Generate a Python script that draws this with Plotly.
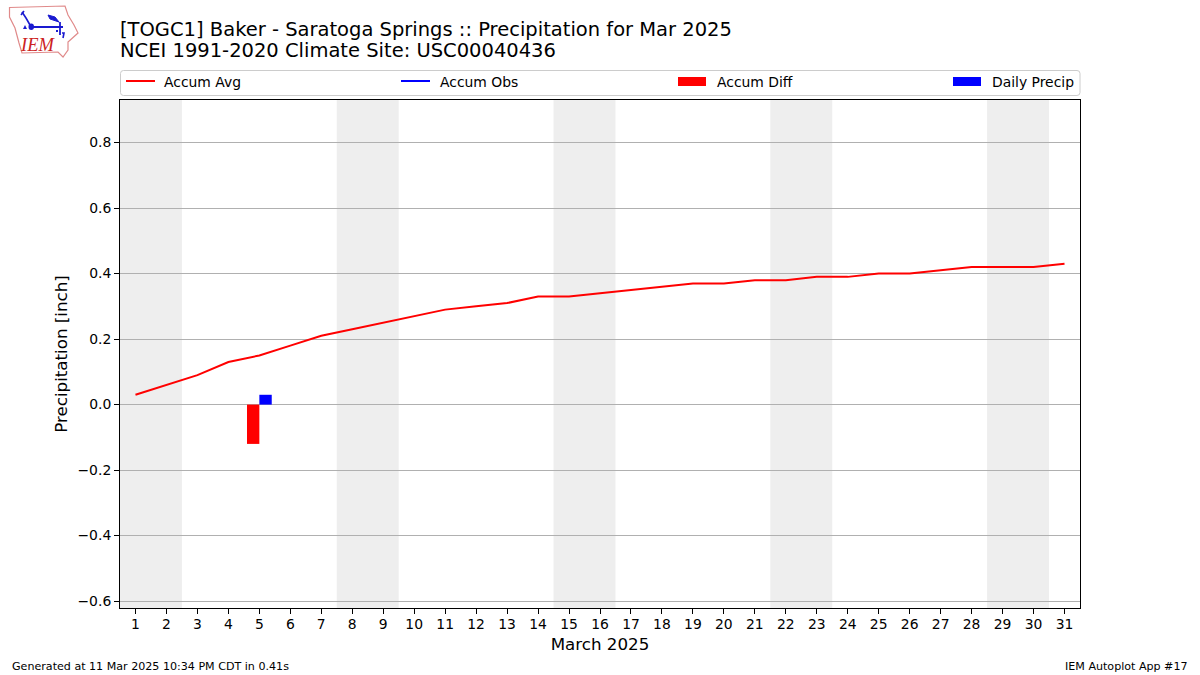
import plotly.graph_objects as go

days = list(range(1, 32))
accum_avg = [0.03, 0.06, 0.09, 0.13, 0.15, 0.18, 0.21, 0.23, 0.25, 0.27, 0.29, 0.30, 0.31, 0.33, 0.33, 0.34,
             0.35, 0.36, 0.37, 0.37, 0.38, 0.38, 0.39, 0.39, 0.40, 0.40, 0.41, 0.42, 0.42, 0.42, 0.43]
obs_days = [1, 2, 3, 4, 5]
accum_obs = [None, None, None, None, 0.03]
diff_days = [5]
accum_diff = [-0.12]
precip_days = [5]
daily_precip = [0.03]
weekends = [(0.5, 2.5), (7.5, 9.5), (14.5, 16.5), (21.5, 23.5), (28.5, 30.5)]
y_ticks = [-0.6, -0.4, -0.2, 0.0, 0.2, 0.4, 0.6, 0.8]
legend_labels = ["Accum Avg", "Accum Obs", "Accum Diff", "Daily Precip"]
title_lines = ["[TOGC1] Baker - Saratoga Springs :: Precipitation for Mar 2025",
               "NCEI 1991-2020 Climate Site: USC00040436"]
footer_left = "Generated at 11 Mar 2025 10:34 PM CDT in 0.41s"
footer_right = "IEM Autoplot App #17"

W, H = 1200, 675
L, R, T, B = 120, 1080, 100, 608
FONT = "DejaVu Sans"


def px(x):
    return (x - L) / (R - L)


def py(y):
    return (B - y) / (B - T)


def path(points, close=False):
    s = "M" + " L".join(f"{px(x):.5f},{py(y):.5f}" for x, y in points)
    return s + (" Z" if close else "")


def pshape(points, color=None, fill=None, width=1, close=False):
    return dict(type="path", xref="paper", yref="paper", path=path(points, close),
                line=dict(color=color or "rgba(0,0,0,0)", width=width),
                fillcolor=fill or "rgba(0,0,0,0)", layer="above")


fig = go.Figure()
fig.add_bar(x=[d - 0.2 for d in diff_days], y=accum_diff, width=0.4, marker=dict(color="#ff0000", line_width=0), name="Accum Diff")
fig.add_bar(x=[d + 0.2 for d in precip_days], y=daily_precip, width=0.4, marker=dict(color="#0000ff", line_width=0), name="Daily Precip")
fig.add_scatter(x=days, y=accum_avg, mode="lines", line=dict(color="#ff0000", width=2), name="Accum Avg")
fig.add_scatter(x=obs_days, y=accum_obs, mode="lines", line=dict(color="#0000ff", width=2), name="Accum Obs")

shapes = []
for a, b in weekends:
    shapes.append(dict(type="rect", xref="x", yref="paper", x0=a, x1=b, y0=0, y1=1,
                       fillcolor="#eeeeee", line_width=0, layer="below"))

# legend box and swatches
r = 3
lx0, lx1, ly0, ly1 = 120.5, 1080, 70.5, 95.5
box = (f"M{px(lx0+r):.5f},{py(ly0):.5f} L{px(lx1-r):.5f},{py(ly0):.5f} Q{px(lx1):.5f},{py(ly0):.5f} {px(lx1):.5f},{py(ly0+r):.5f} "
       f"L{px(lx1):.5f},{py(ly1-r):.5f} Q{px(lx1):.5f},{py(ly1):.5f} {px(lx1-r):.5f},{py(ly1):.5f} "
       f"L{px(lx0+r):.5f},{py(ly1):.5f} Q{px(lx0):.5f},{py(ly1):.5f} {px(lx0):.5f},{py(ly1-r):.5f} "
       f"L{px(lx0):.5f},{py(ly0+r):.5f} Q{px(lx0):.5f},{py(ly0):.5f} {px(lx0+r):.5f},{py(ly0):.5f} Z")
shapes.append(dict(type="path", xref="paper", yref="paper", path=box, line=dict(color="#cccccc", width=1), layer="above"))
shapes.append(pshape([(126, 81), (155, 81)], color="#ff0000", width=2))
shapes.append(pshape([(401, 81), (430, 81)], color="#0000ff", width=2))
shapes.append(pshape([(678, 77), (706, 77), (706, 86), (678, 86)], fill="#ff0000", close=True))
shapes.append(pshape([(953, 77), (981, 77), (981, 86), (953, 86)], fill="#0000ff", close=True))

# logo
LOGO_RED = "#e08a8a"
LOGO_BLUE = "#1a1ad0"
outline = [(9.5, 7.5), (65, 6), (68, 15), (74, 25), (78, 33), (68, 42), (68, 50), (63, 57), (58, 52), (22, 53), (19, 43), (15, 28), (9.5, 17)]
shapes.append(pshape(outline, color=LOGO_RED, width=1.2, close=True))
shapes.append(pshape([(31, 27), (63, 27)], color=LOGO_BLUE, width=2))
shapes.append(pshape([(30, 25), (26, 18), (22, 12)], color=LOGO_BLUE, width=1.6))
shapes.append(pshape([(21, 15), (24, 11)], color=LOGO_BLUE, width=1.6))
shapes.append(pshape([(48, 15), (55, 17), (59, 22), (50, 19)], fill=LOGO_BLUE, color=LOGO_BLUE, close=True))
shapes.append(pshape([(60, 22), (60, 35)], color=LOGO_BLUE, width=1.8))
shapes.append(pshape([(56, 31), (58, 31)], color=LOGO_BLUE, width=2))
shapes.append(pshape([(62, 33), (64, 33), (63, 38)], color=LOGO_BLUE, width=1.6))
shapes.append(pshape([(23, 29), (25, 25), (27, 29)], fill=LOGO_BLUE, close=True))
shapes.append(dict(type="circle", xref="paper", yref="paper", x0=px(28.5), x1=px(34), y0=py(30), y1=py(23.5),
                   fillcolor=LOGO_BLUE, line_width=0, layer="above"))


def note(text, x, y, size, anchor="left", family=FONT, color="black"):
    return dict(text=text, xref="paper", yref="paper", x=px(x), y=py(y), xanchor=anchor, yanchor="middle",
                showarrow=False, font=dict(family=family, size=size, color=color))


annotations = [note(label, x, 81.5, 13.9) for label, x in zip(legend_labels, [162, 438, 715, 990])]
annotations.append(note("<i>IEM</i>", 37.5, 45, 18.5, "center", "Liberation Serif", "#cc2222"))
annotations.append(note(footer_left, 10, 666.5, 11.1))
annotations.append(note(footer_right, 1190, 666.5, 11.1, "right"))
annotations.append(note(title_lines[0], 118, 29, 19.5))
annotations.append(note(title_lines[1], 118, 50.5, 19.5))

fig.update_layout(
    width=W, height=H, autosize=False,
    margin=dict(l=L, r=W - R, t=T, b=H - B, pad=0),
    paper_bgcolor="white", plot_bgcolor="white",
    showlegend=False, barmode="overlay",
    font=dict(family=FONT, color="black"),
    shapes=shapes, annotations=annotations,
    xaxis=dict(range=[0.5, 31.5], tickmode="array", tickvals=days, ticktext=[str(d) for d in days],
               ticks="outside", ticklen=5, tickwidth=1, tickcolor="black", showgrid=False, zeroline=False,
               showline=True, linecolor="black", linewidth=1, mirror=True, ticklabelstandoff=-2,
               tickfont=dict(family=FONT, size=13.9, color="black"),
               title=dict(text="March 2025", font=dict(family=FONT, size=16.7, color="black"), standoff=7)),
    yaxis=dict(range=[-0.621, 0.93], tickmode="array", tickvals=y_ticks, ticktext=[f"{v:.1f}".replace("-", "\u2212") for v in y_ticks],
               ticks="outside", ticklen=5, tickwidth=1, tickcolor="black", showgrid=True, gridcolor="#b0b0b0", gridwidth=1,
               zeroline=False, showline=True, linecolor="black", linewidth=1, mirror=True,
               tickfont=dict(family=FONT, size=13.9, color="black"),
               title=dict(text="Precipitation [inch]", font=dict(family=FONT, size=16.7, color="black"), standoff=5)),
)
fig.write_html("out.html", config=dict(displayModeBar=False),
               post_script="document.body.style.margin='0';document.documentElement.style.overflow='hidden';")
